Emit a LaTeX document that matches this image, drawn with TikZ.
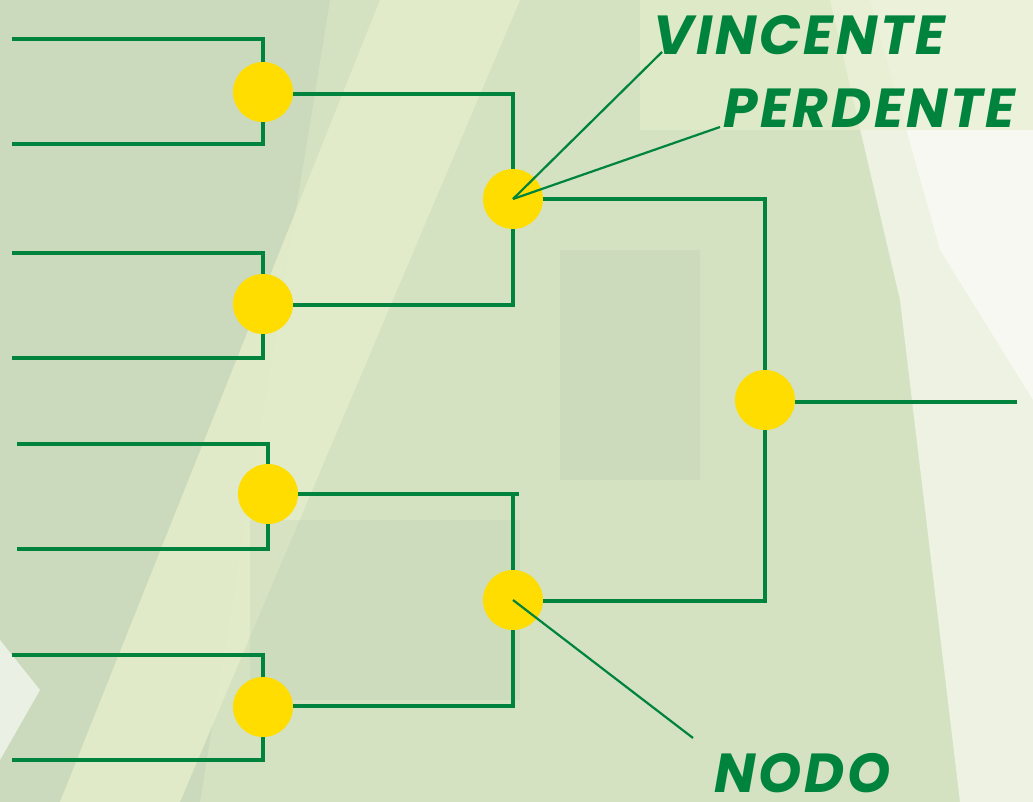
\documentclass[tikz,border=0pt]{standalone}
\usepackage{fontspec}
\setmainfont{Poppins}
\usetikzlibrary{calc}
\definecolor{lgreen}{HTML}{00843D}
\definecolor{lyellow}{HTML}{FFDD00}
\definecolor{bgbase}{HTML}{D4E2C2}
\definecolor{bglight}{HTML}{E6EECB}
\definecolor{bgdark}{HTML}{C6D5B8}
\definecolor{bgwhite}{HTML}{F4F7EC}
\begin{document}
\begin{tikzpicture}[x=1pt,y=-1pt,
  wire/.style={draw=lgreen,line width=3.5pt},
  pointer/.style={draw=lgreen,line width=2.2pt},
  match/.style={circle,fill=lyellow,minimum size=60pt,inner sep=0pt},
  lab/.style={text=lgreen,font=\fontsize{55}{55}\selectfont\bfseries\itshape\addfontfeature{LetterSpace=5},inner sep=0pt,text depth=0pt}]
\useasboundingbox (0,0) rectangle (1033,802);
% background
\fill[bgbase] (0,0) rectangle (1033,802);
\fill[bgdark,opacity=0.6] (0,0) -- (330,0) -- (200,802) -- (0,802) -- cycle;
\fill[bglight,opacity=0.8] (380,0) -- (520,0) -- (180,802) -- (60,802) -- cycle;
\fill[bgdark,opacity=0.5] (560,250) rectangle (700,480);
\fill[bgdark,opacity=0.4] (250,520) rectangle (520,700);
\fill[bgwhite,opacity=0.8] (830,0) -- (1033,0) -- (1033,802) -- (960,802) -- (900,300) -- cycle;
\fill[white,opacity=0.5] (870,0) -- (1033,0) -- (1033,400) -- (940,250) -- cycle;
\fill[bglight,opacity=0.6] (640,0) rectangle (1033,130);
\fill[white,opacity=0.6] (0,640) -- (40,690) -- (0,760) -- cycle;
% coordinates
\coordinate (a1) at (263,92);
\coordinate (a2) at (263,304);
\coordinate (a3) at (268,494);
\coordinate (a4) at (263,707);
\coordinate (b1) at (513,199);
\coordinate (b2) at (513,600);
\coordinate (f) at (765,400);
\coordinate (p1) at (12,39);   \coordinate (p2) at (12,144);
\coordinate (p3) at (12,253);  \coordinate (p4) at (12,358);
\coordinate (p5) at (17,444);  \coordinate (p6) at (17,549);
\coordinate (p7) at (12,655);  \coordinate (p8) at (12,760);
\coordinate (out) at (1017,402);
% wires
\draw[wire] (p1) -| (a1) |- (p2);
\draw[wire] (p3) -| (a2) |- (p4);
\draw[wire] (p5) -| (a3) |- (p6);
\draw[wire] (p7) -| (a4) |- (p8);
\draw[wire] (a1) ++(0,2) -| (b1) |- ($(a2)+(0,1)$);
\draw[wire] (a3) -- ++(251,0) coordinate (t3);
\draw[wire] (b2 |- a3) -- (b2) |- ($(a4)-(0,1)$);
\draw[wire] (b1) -| (f) |- ($(b2)+(0,1)$);
\draw[wire] ($(f)+(0,2)$) -- (out);
% labels
\node[lab,anchor=south west] (vin) at (653,55) {VINCENTE};
\node[lab,anchor=south west] (per) at (723,128) {PERDENTE};
\node[lab,anchor=south west] (nod) at (714,793) {NODO};
\coordinate (vinp) at (662,52);
\coordinate (perp) at (720,127);
\coordinate (nodp) at (693,738);
% nodes
\node[match] (n1) at (a1) {};
\node[match] (n2) at (a2) {};
\node[match] (n3) at (a3) {};
\node[match] (n4) at (a4) {};
\node[match] (n5) at (b1) {};
\node[match] (n6) at (b2) {};
\node[match] (n7) at (f) {};
\draw[pointer] (n5.center) -- (vinp);
\draw[pointer] (n5.center) -- (perp);
\draw[pointer] (n6.center) -- (nodp);
\end{tikzpicture}
\end{document}
